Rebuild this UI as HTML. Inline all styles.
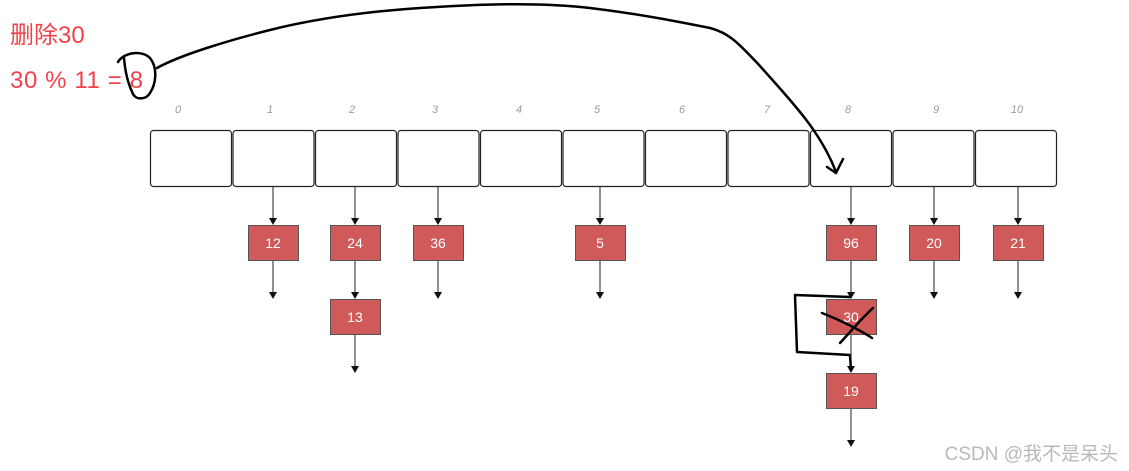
<!DOCTYPE html>
<html><head><meta charset="utf-8"><style>
html,body{margin:0;padding:0;background:#fff;}
svg{display:block;}
</style></head><body>
<svg width="1129" height="471" viewBox="0 0 1129 471" xmlns="http://www.w3.org/2000/svg">
<g font-family="Liberation Sans, Noto Sans CJK SC, sans-serif">
<text x="10" y="43" font-size="24" fill="#f0424a" font-family="Liberation Sans, Noto Sans CJK SC, sans-serif">删除30</text>
<text x="10" y="88" font-size="24" fill="#f0424a" letter-spacing="0.6">30 % 11 = 8</text>
<g font-size="11" font-style="italic" fill="#9a9aa4">
<text x="178" y="113" text-anchor="middle">0</text>
<text x="270" y="113" text-anchor="middle">1</text>
<text x="352" y="113" text-anchor="middle">2</text>
<text x="435" y="113" text-anchor="middle">3</text>
<text x="519" y="113" text-anchor="middle">4</text>
<text x="597" y="113" text-anchor="middle">5</text>
<text x="682" y="113" text-anchor="middle">6</text>
<text x="767" y="113" text-anchor="middle">7</text>
<text x="848" y="113" text-anchor="middle">8</text>
<text x="936" y="113" text-anchor="middle">9</text>
<text x="1017" y="113" text-anchor="middle">10</text>
</g>
<g fill="#fff" stroke="#222" stroke-width="1.2">
<rect x="150.5" y="130.5" width="81" height="56" rx="3"/>
<rect x="233" y="130.5" width="81" height="56" rx="3"/>
<rect x="315.5" y="130.5" width="81" height="56" rx="3"/>
<rect x="398" y="130.5" width="81" height="56" rx="3"/>
<rect x="480.5" y="130.5" width="81" height="56" rx="3"/>
<rect x="563" y="130.5" width="81" height="56" rx="3"/>
<rect x="645.5" y="130.5" width="81" height="56" rx="3"/>
<rect x="728" y="130.5" width="81" height="56" rx="3"/>
<rect x="810.5" y="130.5" width="81" height="56" rx="3"/>
<rect x="893" y="130.5" width="81" height="56" rx="3"/>
<rect x="975.5" y="130.5" width="81" height="56" rx="3"/>
</g>
<g stroke="#222" stroke-width="1">
<line x1="273" y1="187" x2="273" y2="218"/><line x1="355" y1="187" x2="355" y2="218"/><line x1="438" y1="187" x2="438" y2="218"/><line x1="600" y1="187" x2="600" y2="218"/><line x1="851" y1="187" x2="851" y2="218"/><line x1="934" y1="187" x2="934" y2="218"/><line x1="1018" y1="187" x2="1018" y2="218"/>
<line x1="273" y1="260" x2="273" y2="292"/><line x1="355" y1="260" x2="355" y2="292"/><line x1="438" y1="260" x2="438" y2="292"/><line x1="600" y1="260" x2="600" y2="292"/><line x1="851" y1="260" x2="851" y2="292"/><line x1="934" y1="260" x2="934" y2="292"/><line x1="1018" y1="260" x2="1018" y2="292"/>
<line x1="355" y1="335" x2="355" y2="366"/><line x1="851" y1="335" x2="851" y2="366"/><line x1="851" y1="409" x2="851" y2="440"/>
</g>
<g fill="#111">
<path d="M269 218h8l-4 7z"/><path d="M351 218h8l-4 7z"/><path d="M434 218h8l-4 7z"/><path d="M596 218h8l-4 7z"/><path d="M847 218h8l-4 7z"/><path d="M930 218h8l-4 7z"/><path d="M1014 218h8l-4 7z"/>
<path d="M269 292h8l-4 7z"/><path d="M351 292h8l-4 7z"/><path d="M434 292h8l-4 7z"/><path d="M596 292h8l-4 7z"/><path d="M847 292h8l-4 7z"/><path d="M930 292h8l-4 7z"/><path d="M1014 292h8l-4 7z"/>
<path d="M351 366h8l-4 7z"/><path d="M847 366h8l-4 7z"/><path d="M847 440h8l-4 7z"/>
</g>
<g fill="#d05a5a" stroke="#555" stroke-width="1">
<rect x="248.5" y="225.5" width="50" height="35"/><rect x="330.5" y="225.5" width="50" height="35"/><rect x="413.5" y="225.5" width="50" height="35"/><rect x="575.5" y="225.5" width="50" height="35"/><rect x="826.5" y="225.5" width="50" height="35"/><rect x="909.5" y="225.5" width="50" height="35"/><rect x="993.5" y="225.5" width="50" height="35"/>
<rect x="330.5" y="299.5" width="50" height="35"/><rect x="826.5" y="299.5" width="50" height="35"/><rect x="826.5" y="373.5" width="50" height="35"/>
</g>
<g fill="#fff" font-size="14" text-anchor="middle">
<text x="273" y="248">12</text><text x="355" y="248">24</text><text x="438" y="248">36</text><text x="600" y="248">5</text><text x="851" y="248">96</text><text x="934" y="248">20</text><text x="1018" y="248">21</text>
<text x="355" y="322">13</text><text x="851" y="322">30</text><text x="851" y="396">19</text>
</g>
<g fill="none" stroke="#000" stroke-width="2.5" stroke-linecap="round" stroke-linejoin="round">
<path d="M157 68 C 180 55, 230 40, 270 30 S 360 12, 420 8 S 540 2, 590 8 S 680 22, 710 28 C 730 33, 740 45, 760 66 C 790 100, 820 130, 836 172"/>
<path d="M827 167 L836 173 L843 159"/>
<path d="M118 62 C 124 52, 142 50, 150 58 C 158 68, 156 84, 150 93 C 146 100, 136 100, 133 94 C 128 84, 125 70, 124 58"/>
<path d="M850 297 L795 295 L797 352 L850 355 L851 370"/>
<path d="M822 313 C 840 320, 860 330, 872 338 M873 308 C 862 318, 852 330, 840 343"/>
</g>
<text x="1118" y="460" font-size="19" fill="#b9b9b9" text-anchor="end" font-family="Liberation Sans, Noto Sans CJK SC, sans-serif">CSDN @我不是呆头</text>
</g>
</svg>
</body></html>
